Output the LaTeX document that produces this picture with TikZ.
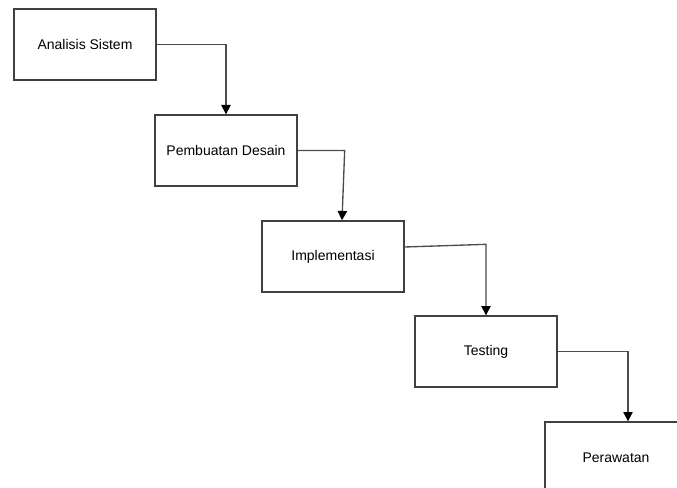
\documentclass[tikz,border=0pt]{standalone}
\usepackage{fontspec}
\setmainfont{Liberation Sans}
\usetikzlibrary{arrows.meta,calc}

\begin{document}
\begin{tikzpicture}[x=0.75pt, y=-0.75pt,
  every node/.style={font=\fontsize{10.5}{12}\selectfont},
  stage/.style={draw=black!75, line width=1pt, fill=white, minimum width=106.5pt,
                minimum height=53.25pt, inner sep=0pt, align=center},
  arrow/.style={-{Triangle[width=7pt,length=7pt,color=black]}, line width=1pt, black!70}
]
\useasboundingbox (0,0) rectangle (677,488);
\clip (0,0) rectangle (677,488);

\node[stage] (analisis)  at (85,44.5)   {Analisis Sistem};
\node[stage] (desain)    at (226,150.5) {Pembuatan Desain};
\node[stage] (impl)      at (333,256.5) {Implementasi};
\node[stage] (testing)   at (486,351.5) {Testing};
\node[stage] (perawatan) at (616,457.5) {Perawatan};

\draw[arrow] (analisis.east) -| (desain.north);
\draw[arrow] (desain.east) -- ++(47,0) -- ($(impl.north)+(9,0)$);
\draw[arrow] ($(impl.east)+(0,-9.5)$) -- ($(testing.north)+(0,-71)$) -- (testing.north);
\draw[arrow] (testing.east) -| ($(perawatan.north)+(12,0)$);
\end{tikzpicture}
\end{document}
